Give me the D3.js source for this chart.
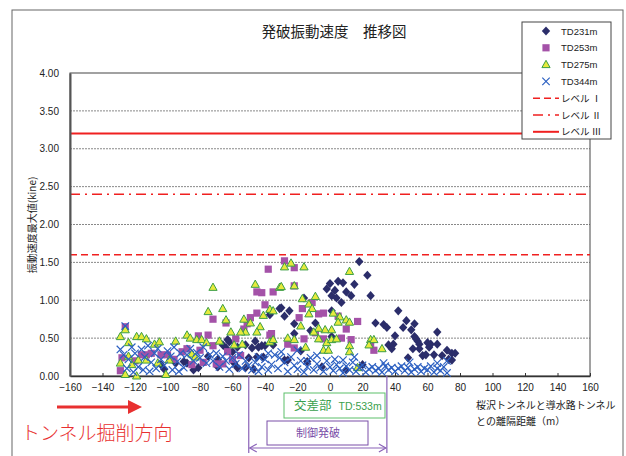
<!DOCTYPE html>
<html>
<head>
<meta charset="utf-8">
<script src="https://cdn.jsdelivr.net/npm/d3@7"></script>
<style>
  body { margin: 0; background: #fff; }
  text { font-family: "Liberation Sans", "Noto Sans CJK JP", sans-serif; }
  .jp { font-family: "Noto Sans CJK JP", sans-serif; }
</style>
</head>
<body>
<script>
// data (x = distance m, y = kine)
let xTicks = [-160, -140, -120, -100, -80, -60, -40, -20, 0, 20, 40, 60, 80, 100, 120, 140, 160];
let yTicks = [0, 0.5, 1, 1.5, 2, 2.5, 3, 3.5, 4];

let td231 = [
  [18,1.51],[23,1.33],[-2,1.15],[0,1.22],[5,1.25],[8,1.23],[15,1.21],[3,1.13],[1,1.06],[4,1.03],
  [10,1.11],[13,1.06],[25,1.06],[7,0.97],[1,0.86],[42,0.86],[47,0.73],[28,0.70],[33,0.68],[35,0.64],
  [45,0.64],[52,0.69],[50,0.61],[66,0.58],[40,0.53],[52,0.52],[54,0.46],[36,0.41],[39,0.42],[51,0.36],
  [60,0.44],[61,0.38],[66,0.42],[57,0.27],[64,0.28],[69,0.27],[72,0.34],[75,0.30],[75,0.21],[48,0.24],
  [-22,0.69],[-25,0.86],[-28,0.79],[-30,0.90],[-37,0.85],[-9,0.70],[-22,0.56],[-12,0.60],[-18,0.33],
  [-14,0.19],[-26,0.21],[1,0.52],[-16,1.03],[53,0.49],[55,0.42],[62,0.42],[55,0.36],[38,0.36],[59,0.28],
  [77,0.30],[73,0.22],[-5,0.12],[20,0.15],[10,0.08],
  [-46,0.46],[-37,0.81],[-48,0.37],[-44,0.38],[-42,0.40],[-63,0.48],[-66,0.41],[-57,0.38],[-35,0.41],
  [-50,0.24],[-47,0.09],[-59,0.17],[-69,0.22],[-69,0.12],[-75,0.26],[-81,0.11],[-84,0.08],[-90,0.19],
  [-88,0.17],[-95,0.17],[-104,0.15],[-102,0.09],[-31,0.89],[-40,0.40],[-52,0.41],[-45,0.25],[-57,0.11],
  [-62,0.45],[-64,0.37],[-60,0.32],[-28,0.21],[-52,0.11],[-41,0.25]
];

let td253 = [
  [-38,1.41],[-45,1.11],[-42,1.10],[-35,1.11],[-40,0.94],[-45,0.83],[-49,0.77],[-51,0.69],[-53,0.62],
  [-72,0.75],[-64,0.70],[-81,0.53],[-75,0.54],[-58,0.49],[-37,0.54],[-126,0.65],[-128,0.24],[-129,0.07],
  [-113,0.28],[-104,0.28],[-91,0.32],[-85,0.15],[-70,0.16],[-80,0.34],[-63,0.32],[-28,1.52],[-22,1.43],
  [-22,1.19],[-11,0.97],[-7,0.82],[-17,0.89],[-19,0.77],[-4,0.83],[5,0.79],[17,0.72],[10,0.62],
  [7,0.50],[13,0.48],[-4,0.49],[-16,0.49],[-26,0.42],[-22,0.37],[25,0.42],[27,0.34],[-36,0.56],[-9,0.57],
  [-120,0.20],[-116,0.28],[-110,0.30],[-100,0.28],[-96,0.22],[-78,0.18],[-66,0.16],[-60,0.22],[-55,0.27],
  [-72,0.40],[-88,0.36]
];

let td275 = [
  [-72,1.17],[-46,1.21],[-31,1.17],[-75,0.85],[-66,0.89],[-64,0.74],[-53,0.75],[-49,0.70],[-37,0.88],
  [-41,0.80],[-43,0.65],[-45,0.58],[-52,0.58],[-55,0.58],[-61,0.58],[-68,0.46],[-126,0.61],[-129,0.52],
  [-124,0.44],[-119,0.52],[-116,0.52],[-113,0.49],[-108,0.42],[-105,0.45],[-95,0.46],[-88,0.54],[-86,0.50],
  [-82,0.48],[-79,0.48],[-76,0.44],[-85,0.29],[-83,0.25],[-59,0.41],[-54,0.42],[-37,0.45],[-129,0.17],
  [-126,0.02],[-119,0.00],[-101,0.02],[-118,0.21],[-113,0.21],[-106,0.17],[-99,0.21],[-122,0.15],[-124,0.26],
  [-24,1.49],[-16,1.44],[-28,1.44],[12,1.38],[-30,1.18],[-22,1.19],[-17,1.02],[-9,1.05],[-13,0.95],
  [-11,0.89],[-13,0.82],[2,0.83],[6,0.78],[5,0.71],[10,0.74],[12,0.71],[1,0.61],[-3,0.61],[-7,0.63],
  [-10,0.58],[-18,0.66],[-26,0.50],[-22,0.48],[-7,0.49],[-2,0.44],[1,0.48],[4,0.49],[-15,0.38],[-4,0.34],
  [-1,0.34],[12,0.40],[25,0.48],[27,0.48],[24,0.41],[32,0.36],[12,0.32],[17,0.11],[-35,0.86],[-35,0.48]
];

let td344 = [
  [-126,0.66],[-129,0.35],[-127,0.28],[-124,0.22],[-122,0.38],[-120,0.30],[-118,0.12],[-116,0.35],
  [-114,0.25],[-112,0.40],[-110,0.18],[-108,0.30],[-106,0.36],[-104,0.22],[-102,0.14],[-100,0.33],
  [-98,0.26],[-96,0.38],[-94,0.19],[-92,0.30],[-90,0.11],[-88,0.28],[-86,0.36],[-84,0.20],[-82,0.31],
  [-80,0.24],[-78,0.38],[-76,0.17],[-74,0.28],[-72,0.20],[-70,0.30],[-68,0.12],[-66,0.26],[-64,0.20],
  [-62,0.09],[-60,0.24],[-58,0.16],[-56,0.28],[-54,0.10],[-52,0.20],[-50,0.14],[-48,0.08],[-125,0.10],
  [-121,0.05],[-115,0.08],[-111,0.06],[-107,0.10],[-97,0.08],[-93,0.06],
  [-46,0.18],[-44,0.06],[-42,0.12],[-40,0.22],[-38,0.08],[-36,0.15],[-34,0.28],[-32,0.10],[-30,0.32],
  [-28,0.18],[-26,0.06],[-24,0.25],[-22,0.14],[-20,0.09],[-18,0.20],[-16,0.05],[-14,0.12],[-12,0.24],
  [-10,0.08],[-8,0.16],[-6,0.11],[-4,0.06],[-2,0.20],[0,0.12],[2,0.07],[4,0.15],[6,0.10],[8,0.04],
  [10,0.13],[12,0.08],[14,0.18],[16,0.06],[18,0.11],[20,0.14],[22,0.05],[24,0.09],[26,0.12],[28,0.07],
  [30,0.10],[32,0.05],[34,0.13],[36,0.08],[38,0.11],[40,0.06],[42,0.10],[44,0.13],[46,0.07],[48,0.11],
  [50,0.05],[52,0.09],[54,0.12],[56,0.06],[58,0.10],[60,0.08],[62,0.13],[64,0.05],[66,0.10],[68,0.07],
  [70,0.12],[72,0.04],[-38,0.30],[-20,0.34],[-31,0.24],[3,0.22],[15,0.25],[8,0.21],[-8,0.27],[33,0.17],
  [49,0.18],[66,0.17],[72,0.20],[-44,0.25],[-14,0.20]
];

let levelNames = ['レベル Ⅰ', 'レベル Ⅱ', 'レベル Ⅲ'];
let levelValues = [1.6, 2.4, 3.2];
let levelDash = ['7,4', '10,5,2,5', null];
let zone = [-50, 35]; // 制御発破 range

let w = 626, h = 456;
let pLeft = 70, pRight = 590, pTop = 73, pBottom = 376;

let svg = d3.select('body').append('svg')
  .attr('width', w)
  .attr('height', h);

// outer frame
svg.append('rect')
  .attr('x', 12).attr('y', 10)
  .attr('width', 611).attr('height', 470)
  .attr('fill', 'none').attr('stroke', '#666').attr('stroke-width', 1);

let xScale = d3.scaleLinear().domain([-160, 160]).range([pLeft, pRight]);
let yScale = d3.scaleLinear().domain([0, 4]).range([pBottom, pTop]);

// grid
svg.append('g').selectAll('line')
  .data(yTicks.filter(d => d > 0 && d < 4))
  .enter().append('line')
  .attr('x1', pLeft).attr('x2', pRight)
  .attr('y1', d => yScale(d)).attr('y2', d => yScale(d))
  .attr('stroke', '#888').attr('stroke-width', 1).attr('stroke-dasharray', '2,1');

// plot border
svg.append('rect')
  .attr('x', pLeft).attr('y', pTop)
  .attr('width', pRight - pLeft).attr('height', pBottom - pTop)
  .attr('fill', 'none').attr('stroke', '#444').attr('stroke-width', 1);

// level lines
svg.append('g').selectAll('line')
  .data(levelValues)
  .enter().append('line')
  .attr('x1', pLeft).attr('x2', pRight)
  .attr('y1', d => yScale(d)).attr('y2', d => yScale(d))
  .attr('stroke', '#f02020')
  .attr('stroke-width', (d, i) => i == 2 ? 2 : 1.6)
  .attr('stroke-dasharray', (d, i) => levelDash[i]);

// axes
let xAxis = d3.axisBottom(xScale).tickValues(xTicks).tickSizeInner(-3).tickSizeOuter(0).tickPadding(8);
let yAxis = d3.axisLeft(yScale).tickValues(yTicks).tickFormat(d3.format('.2f')).tickSize(0).tickPadding(11);

let gx = svg.append('g').attr('transform', 'translate(0,' + pBottom + ')').call(xAxis);
gx.select('.domain').attr('stroke', '#333').attr('stroke-width', 1.6);
gx.selectAll('.tick line').attr('stroke', '#333');
gx.selectAll('text').attr('font-size', 10).attr('fill', '#222')
  .attr('font-family', '"Liberation Sans", sans-serif');

let gy = svg.append('g').attr('transform', 'translate(' + pLeft + ',0)').call(yAxis);
gy.select('.domain').attr('stroke', '#555').attr('stroke-width', 2);
gy.selectAll('text').attr('font-size', 10).attr('fill', '#222')
  .attr('font-family', '"Liberation Sans", sans-serif');

// markers
let diamond = 'M0,-4.6L4.2,0L0,4.6L-4.2,0Z';
let square = 'M-3.6,-3.6H3.6V3.6H-3.6Z';
let triangle = 'M0,-4.3L4.1,3L-4.1,3Z';
let cross = 'M-3.7,-3.7L3.7,3.7M-3.7,3.7L3.7,-3.7';

let series = [
  { data: td231, path: diamond, fill: '#2b2d6a', stroke: 'none', sw: 0 },
  { data: td253, path: square, fill: '#a452a8', stroke: 'none', sw: 0 },
  { data: td275, path: triangle, fill: '#e6ea3c', stroke: '#3c9e46', sw: 1 },
  { data: td344, path: cross, fill: 'none', stroke: '#2c60c2', sw: 1.2 }
];

series.forEach(s => {
  svg.append('g').selectAll('path')
    .data(s.data)
    .enter().append('path')
    .attr('d', s.path)
    .attr('transform', d => 'translate(' + xScale(d[0]) + ',' + yScale(d[1]) + ')')
    .attr('fill', s.fill)
    .attr('stroke', s.stroke)
    .attr('stroke-width', s.sw);
});

// title
svg.append('text')
  .attr('class', 'jp')
  .attr('x', 334).attr('y', 37)
  .attr('text-anchor', 'middle')
  .attr('font-size', 14.5).attr('fill', '#222')
  .text('発破振動速度　推移図');

// y title
svg.append('text')
  .attr('class', 'jp')
  .attr('transform', 'translate(36,225) rotate(-90)')
  .attr('text-anchor', 'middle')
  .attr('font-size', 10).attr('fill', '#222')
  .text('振動速度最大値(kine)');

// x title
let xt = svg.append('text').attr('class', 'jp').attr('font-size', 10).attr('fill', '#222');
xt.append('tspan').attr('x', 476).attr('y', 409).text('桜沢トンネルと導水路トンネル');
xt.append('tspan').attr('x', 476).attr('y', 425).text('との離隔距離（m）');

// legend
let lg = svg.append('g').attr('transform', 'translate(522,22)');
lg.append('rect').attr('width', 89).attr('height', 117)
  .attr('fill', '#fff').attr('stroke', '#444').attr('stroke-width', 1);
let legendNames = ['TD231m', 'TD253m', 'TD275m', 'TD344m'];
legendNames.forEach((name, i) => {
  let y = 9 + i * 16.8;
  lg.append('path').attr('d', series[i].path)
    .attr('transform', 'translate(24,' + y + ')')
    .attr('fill', series[i].fill).attr('stroke', series[i].stroke).attr('stroke-width', series[i].sw);
  lg.append('text').attr('x', 39).attr('y', y + 3.5).attr('font-size', 9.5).attr('fill', '#222').text(name);
});
levelNames.forEach((name, i) => {
  let y = 9 + (i + 4) * 16.8;
  lg.append('line').attr('x1', 11).attr('x2', 37).attr('y1', y).attr('y2', y)
    .attr('stroke', '#f02020').attr('stroke-width', i == 2 ? 2 : 1.6)
    .attr('stroke-dasharray', levelDash[i]);
  lg.append('text').attr('class', 'jp').attr('x', 39).attr('y', y + 3.5)
    .attr('font-size', 9.5).attr('fill', '#222').text(name);
});

// excavation direction arrow
svg.append('line').attr('x1', 57).attr('x2', 130).attr('y1', 407).attr('y2', 407)
  .attr('stroke', '#e83030').attr('stroke-width', 3);
svg.append('path').attr('d', 'M128,400L142,407L128,414Z').attr('fill', '#e83030');
svg.append('text').attr('class', 'jp')
  .attr('x', 21).attr('y', 440)
  .attr('font-size', 19).attr('font-weight', 300).attr('fill', '#e83030')
  .text('トンネル掘削方向');

// intersection box
svg.append('rect').attr('x', 284).attr('y', 393).attr('width', 101).attr('height', 25)
  .attr('fill', '#fff').attr('stroke', '#5cbf6a').attr('stroke-width', 1);
let gt = svg.append('text').attr('y', 410).attr('fill', '#3aa04c');
gt.append('tspan').attr('class', 'jp').attr('x', 294).attr('font-size', 12.5).text('交差部');
gt.append('tspan').attr('dx', 7).attr('font-size', 10.5).text('TD:533m');

// control blasting zone
let zx0 = xScale(zone[0]), zx1 = xScale(zone[1]);
svg.append('rect').attr('x', 267).attr('y', 421).attr('width', 101).attr('height', 24)
  .attr('fill', '#fff').attr('stroke', '#7a4ea8').attr('stroke-width', 1);
svg.append('text').attr('class', 'jp')
  .attr('x', 318).attr('y', 437).attr('text-anchor', 'middle')
  .attr('font-size', 11).attr('fill', '#7a4ea8')
  .text('制御発破');
[zx0, zx1].forEach(x => {
  svg.append('line').attr('x1', x).attr('x2', x).attr('y1', pBottom).attr('y2', 453)
    .attr('stroke', '#8a62b8').attr('stroke-width', 1.2);
});
svg.append('line').attr('x1', zx0 + 1).attr('x2', zx1 - 1).attr('y1', 448).attr('y2', 448)
  .attr('stroke', '#8a62b8').attr('stroke-width', 1.2);
svg.append('path')
  .attr('d', 'M' + (zx0 + 8) + ',444L' + (zx0 + 1) + ',448L' + (zx0 + 8) + ',452'
    + 'M' + (zx1 - 8) + ',444L' + (zx1 - 1) + ',448L' + (zx1 - 8) + ',452')
  .attr('fill', 'none').attr('stroke', '#8a62b8').attr('stroke-width', 1.2);
</script>
</body>
</html>
